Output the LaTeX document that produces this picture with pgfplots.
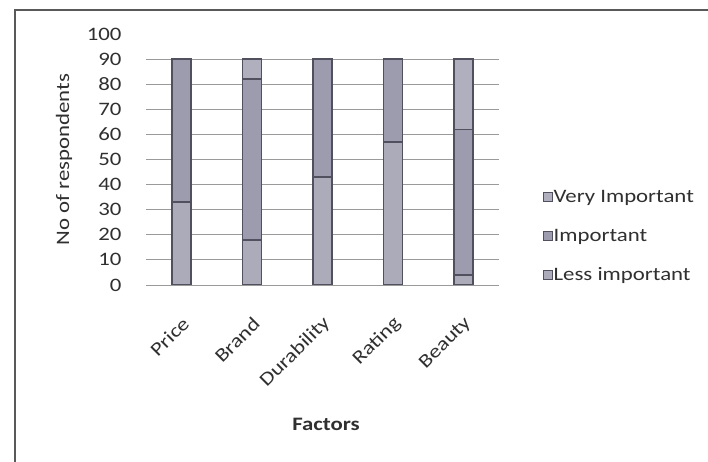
\documentclass[border=0pt]{standalone}
\usepackage{fontspec}
\setmainfont[FakeStretch=1.2]{Carlito}
\usepackage{pgfplots}
\pgfplotsset{compat=1.18}

\definecolor{lessc}{HTML}{ABABBA}
\definecolor{impc}{HTML}{9C9CAE}
\definecolor{veryc}{HTML}{AFAFBE}
\definecolor{edgec}{HTML}{50505F}
\definecolor{gridc}{HTML}{9A9A9A}
\definecolor{txt}{HTML}{303030}

\newcommand{\cf}{\fontsize{19}{22}\selectfont}

\begin{document}
\begin{tikzpicture}[font=\cf]
\useasboundingbox (0,0) rectangle (708pt,462pt);
\fill[white] (0,0) rectangle (708pt,462pt);
\draw[gray!70!black, line width=1.2pt] (15pt,0) -- (15pt,452pt) -- (708pt,452pt);
\begin{axis}[
  at={(146pt,177pt)}, anchor=south west,
  scale only axis, width=353pt, height=251pt,
  ybar stacked, bar width=19pt,
  xmin=-0.5, xmax=4.5, ymin=0, ymax=100,
  xtick=data,
  xticklabels={Price,Brand,Durability,Rating,Beauty},
  ytick={0,10,...,90},
  extra y ticks={100},
  extra y tick style={grid=none},
  ymajorgrids, grid style={gridc, line width=0.8pt},
  axis line style={draw=none},
  major tick length=0pt,
  /pgf/number format/assume math mode=true,
  tick label style={font=\cf, text=txt},
  yticklabel style={xshift=-21pt},
  xticklabel style={xshift=7pt, yshift=-33pt, rotate=45, anchor=east},
  ylabel={No of respondents},
  ylabel style={at={(axis description cs:-0.232,0.5)}, anchor=center, font=\cf, text=txt},
  xlabel={\textbf{Factors}},
  xlabel style={at={(axis description cs:0.51,-0.554)}, anchor=center, font=\cf, text=txt},
  legend style={at={(axis description cs:1.115,0.39)}, anchor=north west,
    draw=none, fill=none, font=\cf, text=txt, row sep=23pt,
    nodes={inner sep=1pt}},
  legend cell align=left,
  reverse legend,
  legend image code/.code={\draw[#1, line width=0.8pt] (0pt,-4.5pt) rectangle (9pt,4.5pt);},
  every axis plot/.append style={draw=edgec, line width=1.5pt},
]
\addplot[fill=lessc] coordinates {(0,33) (1,18) (2,43) (3,57) (4,4)};
\addplot[fill=impc] coordinates {(0,57) (1,64) (2,47) (3,33) (4,58)};
\addplot[fill=veryc] coordinates {(0,0) (1,8) (2,0) (3,0) (4,28)};
\legend{Less important,Important,Very Important}
\end{axis}
\end{tikzpicture}
\end{document}
